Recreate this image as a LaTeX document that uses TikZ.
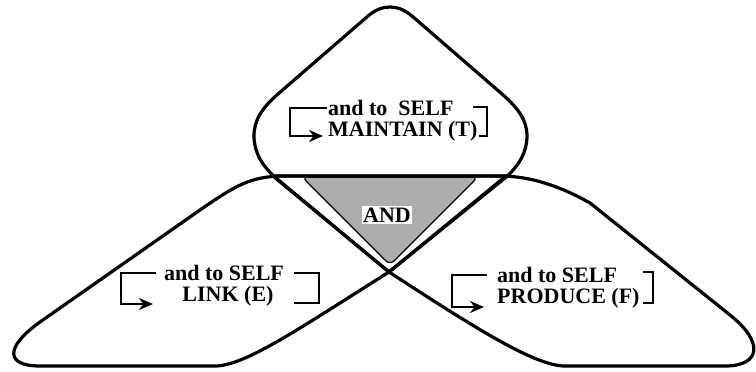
\documentclass[tikz,border=0pt]{standalone}
\usepackage{fontspec}
\setmainfont{Liberation Serif}
\usetikzlibrary{arrows.meta}

\begin{document}
\begin{tikzpicture}[x=1pt, y=-1pt,
    lobe/.style={line width=3.2pt, line join=round},
    bracket/.style={line width=2.2pt},
    loopto/.style={bracket, -{Stealth[length=14pt, width=12pt]}},
    txt/.style={font=\fontsize{22}{23}\selectfont\bfseries, inner sep=1pt}]
  \useasboundingbox (0,0) rectangle (756,372);
  % common part
  \filldraw[fill=black!32, line width=1.2pt, rounded corners=6pt]
    (302,177) -- (478,177) -- (390,265) -- cycle;
  \node[txt, fill=white, inner sep=1.5pt] (and) at (387,215) {AND};
  % maintain
  \draw[lobe] (389,272) -- (276,178) .. controls (262,166) and (254,152) .. (254,136)
    .. controls (254,120) and (262,108) .. (278,94) -- (368,16)
    .. controls (382,4) and (398,4) .. (412,16) -- (502,94)
    .. controls (518,108) and (527,120) .. (527,136)
    .. controls (527,152) and (519,166) .. (505,178) -- cycle;
  % link
  \draw[lobe] (506,176) -- (285,176) .. controls (250,176) and (235,186) .. (200,210)
    -- (40,322) .. controls (5,347) and (5,366) .. (40,366) -- (215,366)
    .. controls (245,366) and (300,328) .. (389,272) -- cycle;
  % produce
  \draw[lobe] (273,176) -- (500,176) .. controls (530,176) and (560,186) .. (590,203)
    -- (730,315) .. controls (765,343) and (760,366) .. (725,366) -- (565,366)
    .. controls (535,366) and (475,328) .. (389,272) -- cycle;

  \node[txt, anchor=west] (t1) at (327,108) {and to\ \ SELF};
  \node[txt, anchor=west] (t2) at (327,131) {MAINTAIN (T)};
  \draw[loopto] (t1.west) -- ++(-37,0) |- ([xshift=-4pt, yshift=-5pt]t2.west);
  \draw[bracket] ([yshift=-5pt]t2.east) -- ++(8,0) -- ++(0,-29) -- ++(-14,0);

  \node[txt] (e1) at (224,273) {and to SELF};
  \node[txt] (e2) at (228,296) {LINK (E)};
  \draw[loopto] ([xshift=-7pt]e1.west) -- ++(-35,0) |- ++(32,31);
  \draw[bracket] ([xshift=9pt]e1.east) -- ++(25,0) -- ++(0,30) -- ++(-25,0);

  \node[txt, anchor=west] (f1) at (496,275) {and to SELF};
  \node[txt, anchor=west] (f2) at (496,298) {PRODUCE (F)};
  \draw[loopto] ([xshift=-9pt]f1.west) -- ++(-35,0) |- ++(32,32);
  \draw[bracket] ([xshift=2pt, yshift=-5pt]f2.east) -- ++(10,0) -- ++(0,-31) -- ++(-10,0);
\end{tikzpicture}
\end{document}
